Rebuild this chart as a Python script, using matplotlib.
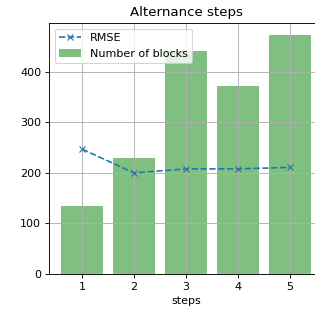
import matplotlib
matplotlib.use("Agg")
import matplotlib.pyplot as plt

steps = [1, 2, 3, 4, 5]
rmse = [247, 200, 208, 208, 211]
blocks = [134, 229, 441, 372, 473]


def main():
    fig = plt.figure(figsize=(315 / 80, 309 / 80), dpi=80)
    # axes run a little past the right edge of the figure, as in the original
    ax = fig.add_axes([49 / 315, 35 / 309, 274 / 315, 251 / 309])

    ax.plot(steps, rmse, 'x--', label='RMSE')
    ax.bar(steps, blocks, color='green', alpha=0.5, label='Number of blocks')

    ax.set_xticks(steps)
    ax.set_xlabel('steps')
    ax.set_title('Alternance steps')
    ax.grid(True)
    ax.spines['right'].set_visible(False)
    ax.legend(loc='upper left')

    fig.savefig('out.png', dpi=80)


if __name__ == "__main__":
    main()
